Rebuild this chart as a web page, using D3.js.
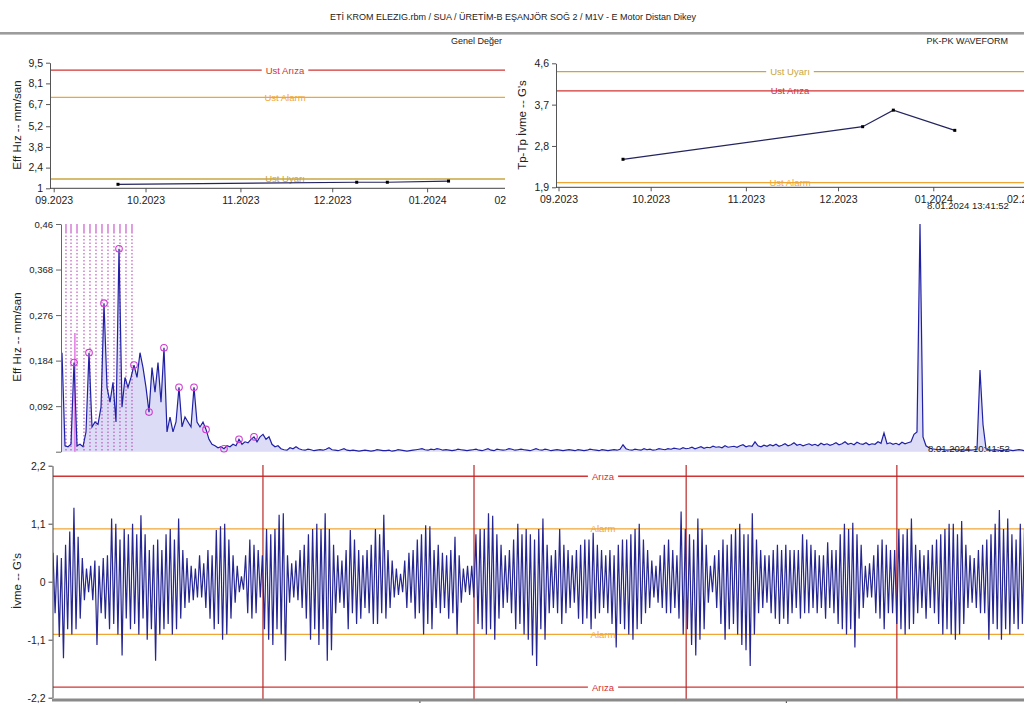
<!DOCTYPE html>
<html><head><meta charset="utf-8">
<script src="https://cdn.jsdelivr.net/npm/d3@7"></script>
<style>
body{margin:0;background:#fff;overflow:hidden}
svg text{font-family:"Liberation Sans",Arial,sans-serif;fill:#222}
</style>
</head><body>
<svg id="c" width="1024" height="703"></svg>
<script>
// ---------------- DATA ----------------
const titleText = "ETİ KROM ELEZIG.rbm / SUA / ÜRETİM-B EŞANJÖR SOĞ 2 / M1V - E Motor Distan Dikey";
const leftPanelTitle = "Genel Değer";
const rightPanelTitle = "PK-PK WAVEFORM";
const trendTimestamp = "8.01.2024 13:41:52";
const spectrumTimestamp = "8.01.2024 10:41:52";

const monthTickDates = ["2023-09-01","2023-10-01","2023-11-01","2023-12-01","2024-01-01","2024-02-01"];
const monthTickLabels = ["09.2023","10.2023","11.2023","12.2023","01.2024","02.2024"];

const trendDates = ["2023-09-22","2023-12-09","2023-12-19","2024-01-08"];
const velocityTrend = [1.27, 1.41, 1.41, 1.49];
const pkpkTrend = [2.51, 3.22, 3.58, 3.14];

const velTicks = [1, 2.4, 3.8, 5.2, 6.7, 8.1, 9.5];
const velTickLabels = ["1","2,4","3,8","5,2","6,7","8,1","9,5"];
const velLimitNames = ["Ust Arıza","Ust Alarm","Ust Uyarı"];
const velLimitValues = [9.0, 7.15, 1.63];

const pkTicks = [1.9, 2.8, 3.7, 4.6];
const pkTickLabels = ["1,9","2,8","3,7","4,6"];
const pkLimitNames = ["Ust Uyarı","Ust Arıza","Ust Alarm"];
const pkLimitValues = [4.42, 4.0, 2.0];

// spectrum (uniform bins)
const specTicks = [0, 0.092, 0.184, 0.276, 0.368, 0.46];
const specTickLabels = ["","0,092","0,184","0,276","0,368","0,46"];
const spectrumAmp = [
0.2,0.012,0.01,0.015,0.18,0.012,0.015,0.01,0.04,0.2,
0.05,0.06,0.055,0.09,0.3,0.13,0.1,0.14,0.06,0.41,
0.09,0.15,0.13,0.15,0.175,0.15,0.2,0.17,0.13,0.08,
0.17,0.12,0.18,0.1,0.21,0.04,0.07,0.04,0.06,0.13,
0.05,0.07,0.06,0.05,0.13,0.06,0.05,0.06,0.045,0.025,
0.015,0.012,0.008,0.01,0.006,0.012,0.01,0.015,0.012,0.025,
0.015,0.02,0.018,0.025,0.03,0.02,0.03,0.035,0.025,0.03,
0.015,0.01,0.012,0.006,0.004,0.003,0.008,0.006,
0.01,0.006,0.004,0.003,0.005,0.004,0.002,0.003,0.004,0.003,
0.005,0.008,0.004,0.003,0.002,0.004,0.006,0.003,0.002,0.003,
0.002,0.001,0.002,0.003,0.002,0.001,0.002,0.004,0.003,0.002,
0.002,0.003,0.001,0.002,0.004,0.003,0.002,0.001,0.002,0.003,
0.004,0.005,0.006,0.004,0.003,0.005,0.004,0.006,0.005,0.003,
0.004,0.003,0.002,0.003,0.005,0.004,0.003,0.002,0.003,0.004,
0.005,0.003,0.002,0.004,0.006,0.003,0.002,0.005,0.004,0.003,
0.004,0.006,0.005,0.003,0.004,0.005,0.004,0.003,0.002,0.004,
0.006,0.004,0.003,0.005,0.004,0.002,0.003,0.004,0.003,0.002,
0.003,0.004,0.003,0.002,0.004,0.003,0.002,0.003,0.005,0.004,
0.003,0.002,0.004,0.003,0.002,0.003,0.004,0.003,0.005,0.014,
0.006,0.004,0.003,0.005,0.004,0.003,0.006,0.004,0.005,0.003,
0.004,0.006,0.005,0.004,0.006,0.005,0.007,0.006,0.005,0.008,
0.006,0.007,0.009,0.006,0.008,0.01,0.007,0.009,0.008,0.011,
0.009,0.01,0.008,0.012,0.009,0.01,0.011,0.009,0.012,0.014,
0.01,0.012,0.011,0.02,0.012,0.01,0.013,0.011,0.014,0.012,
0.015,0.011,0.013,0.016,0.012,0.014,0.018,0.013,0.015,0.012,
0.014,0.016,0.013,0.015,0.012,0.017,0.014,0.016,0.013,0.015,
0.018,0.014,0.016,0.02,0.015,0.017,0.014,0.019,0.016,0.015,
0.018,0.014,0.016,0.015,0.02,0.017,0.038,0.016,0.018,0.015,
0.017,0.014,0.019,0.016,0.018,0.02,0.035,0.04,0.46,0.03,
0.012,0.008,0.006,0.005,0.004,0.005,0.004,0.003,0.004,0.005,
0.004,0.003,0.004,0.003,0.004,0.003,0.004,0.005,0.165,0.055,
0.006,0.004,0.003,0.004,0.003,0.002,0.003,0.004,0.003,0.002,
0.003,0.004,0.003,0.002
];
const markerBins = [4,9,14,19,24,29,34,39,44,48,54,59,64];
const sidebandBins = [1.33,3.0,5.0,7.33,9.33,11.33,13.33,15.33,17.33,19.33,21.33,23.33];
const cursorBin = 4.3;
const cursorValue = 0.24;

// waveform (ms step)
const waveStepMs = 0.5714;
const waveTicks = [-2.2, -1.1, 0, 1.1, 2.2];
const waveTickLabels = ["-2,2","-1,1","0","1,1","2,2"];
const waveTimeTicks = [100, 200];
const revolutionMarksMs = [57.3, 114.9, 172.8, 230.3];
const waveLimitNames = ["Arıza","Alarm","Alarm","Arıza"];
const waveLimitValues = [2.0, 1.0, -1.0, -2.0];
const waveform = [
0.55,-0.6,0.5,-1.05,0.45,-1.45,0.7,-0.9,0.95,-1.0,1.4,-0.9,0.85,-0.7,
0.45,-0.35,0.25,-0.2,0.3,-0.35,0.4,-1.2,0.3,-0.6,0.45,-0.7,0.5,-0.9,
1.2,-0.8,1.1,-1.0,0.8,-1.4,1.0,-0.7,0.9,-0.9,1.1,-0.8,0.9,-1.0,
1.26,-0.7,0.9,-1.1,0.6,-0.9,0.7,-1.5,0.8,-1.0,0.6,-0.9,0.9,-0.8,
1.0,-1.0,0.8,-0.9,1.2,-0.7,0.6,-0.5,0.45,-0.4,0.3,-0.35,0.25,-0.3,
0.5,-0.3,0.35,-0.5,0.6,-0.7,0.5,-0.9,0.98,-0.8,1.05,-1.1,1.1,-1.0,
0.8,-0.7,0.5,-0.4,0.3,-0.2,0.1,-0.15,0.5,-0.6,0.8,-0.7,0.7,-0.6,
0.6,-0.3,0.5,-0.9,1.0,-1.1,0.9,-1.2,1.0,-0.9,1.27,-1.0,1.3,-1.5,
0.5,-0.4,0.35,-0.3,0.4,-0.35,0.6,-0.5,0.7,-0.7,0.9,-1.1,1.0,-0.9,
1.1,-1.2,1.0,-0.9,1.3,-1.5,1.0,-1.3,0.7,-0.6,0.5,-0.4,0.4,-0.5,
0.6,-0.9,0.98,-0.6,0.8,-0.8,0.6,-0.7,0.5,-0.5,0.6,-0.6,0.7,-0.8,
1.0,-0.8,0.9,-0.6,1.27,-0.7,0.6,-0.5,0.4,-0.3,0.25,-0.25,0.15,-0.2,
0.4,-0.5,0.55,-0.4,0.6,-0.7,0.8,-0.6,0.9,-1.0,1.07,-0.8,1.05,-0.9,
0.6,-0.5,0.7,-0.6,0.55,-0.5,0.5,-0.7,0.6,-0.6,0.85,-1.0,0.5,-0.4,
0.25,-0.2,0.3,-0.25,0.3,-0.3,0.9,-0.8,1.0,-0.9,1.0,-1.0,1.3,-0.9,
1.25,-1.1,0.9,-0.7,0.7,-0.5,0.5,-0.4,0.6,-0.6,0.8,-0.9,1.1,-0.8,
0.9,-1.0,1.0,-1.1,0.9,-1.4,0.8,-1.6,1.0,-0.9,1.2,-1.1,0.7,-0.6,
0.5,-0.5,0.6,-0.6,1.0,-0.8,0.7,-0.6,0.6,-0.5,0.5,-0.4,0.6,-0.7,
0.7,-0.8,0.8,-0.7,0.8,-0.9,0.93,-0.7,0.7,-0.6,0.6,-0.5,0.5,-0.6,
0.6,-0.8,0.5,-1.25,0.7,-0.8,0.8,-0.9,0.8,-1.0,0.9,-1.1,1.0,-0.9,
1.1,-0.8,0.8,-0.6,0.6,-0.5,0.4,-0.3,0.3,-0.4,0.5,-0.5,0.7,-0.6,
0.8,-0.6,0.6,-0.5,0.5,-0.7,1.33,-1.0,1.0,-0.9,0.9,-1.2,0.8,-1.4,
1.2,-1.1,1.0,-0.9,0.7,-0.4,0.3,-0.2,0.5,-0.5,0.6,-0.8,0.8,-1.1,
0.7,-0.9,0.9,-0.8,1.0,-1.0,1.1,-1.2,0.9,-1.3,0.9,-1.6,1.3,-1.0,
0.8,-0.6,0.6,-0.5,0.5,-0.4,0.5,-0.6,0.6,-0.7,0.7,-0.8,0.6,-0.7,
0.7,-0.8,0.6,-0.6,0.6,-0.5,0.6,-0.7,0.9,-0.6,0.8,-0.6,0.7,-0.5,
0.6,-0.6,0.5,-0.5,0.5,-0.7,0.75,-0.5,0.6,-0.6,0.6,-0.8,0.9,-0.9,
1.1,-1.0,1.0,-0.9,1.12,-1.25,0.9,-0.7,0.7,-0.5,0.3,-0.3,0.35,-0.3,
0.5,-0.6,0.7,-0.7,0.8,-0.9,0.7,-0.6,0.6,-0.6,0.6,-0.8,1.0,-0.9,
0.9,-1.0,1.0,-0.9,1.2,-0.8,0.7,-0.6,0.6,-0.5,0.5,-0.7,0.6,-0.5,
0.7,-0.6,0.8,-0.8,0.9,-1.0,1.0,-0.9,1.1,-1.0,1.1,-1.1,0.9,-1.0,
1.15,-0.8,0.7,-0.5,0.5,-0.4,0.45,-0.5,0.6,-0.6,0.7,-0.6,0.8,-1.1,
0.9,-0.8,1.1,-0.9,1.36,-1.1,1.0,-0.9,1.2,-1.0,0.9,-0.8,0.8,-0.9,
1.1,-0.8,1.0
];

// ---------------- DRAW ----------------
const RED = "#d03434", ORANGE = "#f0a634", GOLD = "#c9a640";
const limitColor = n => n.indexOf("Arıza") >= 0 ? RED : (n.indexOf("Alarm") >= 0 ? ORANGE : GOLD);
const svg = d3.select("#c");
const defs = svg.append("defs");
function clip(id, x, y, w, h) {
  defs.append("clipPath").attr("id", id).append("rect").attr("x", x).attr("y", y).attr("width", w).attr("height", h);
  return "url(#" + id + ")";
}
const parse = d3.timeParse("%Y-%m-%d");

svg.append("text").attr("x", 513).attr("y", 19.5).attr("text-anchor", "middle").attr("font-size", 9).text(titleText);
svg.append("rect").attr("x", 0).attr("y", 32).attr("width", 1024).attr("height", 2.6).attr("fill", "#9c9c9c");
svg.append("text").attr("x", 502).attr("y", 44).attr("text-anchor", "end").attr("font-size", 9).text(leftPanelTitle);
svg.append("text").attr("x", 1008).attr("y", 44).attr("text-anchor", "end").attr("font-size", 9).text(rightPanelTitle);

function styleAxis(g, c) {
  g.selectAll("line").attr("stroke", c || "#333");
  g.selectAll("path").attr("stroke", c || "#333");
  g.selectAll("text").attr("fill", "#222").attr("font-family", "Liberation Sans, Arial, sans-serif");
}

function trendPanel(o) {
  const g = svg.append("g");
  const x = d3.scaleTime().domain([parse(monthTickDates[0]), parse(monthTickDates[5])]).range(o.xr);
  const y = d3.scaleLinear().domain(o.yd).range(o.yr);
  const cp = clip(o.id, 0, 40, o.right + 1, 180);
  const inner = g.append("g").attr("clip-path", cp);
  o.limNames.forEach((n, i) => {
    const yy = y(o.limVals[i]);
    inner.append("line").attr("x1", o.ax).attr("x2", o.right).attr("y1", yy).attr("y2", yy)
      .attr("stroke", limitColor(n)).attr("stroke-width", 1.3);
    const t = inner.append("text").attr("x", o.labX).attr("y", yy + 3.5).attr("text-anchor", "middle")
      .attr("font-size", 9.5).style("fill", limitColor(n)).text(n);
    const w = t.node().getComputedTextLength();
    inner.insert("rect", "text").attr("x", o.labX - w / 2 - 4).attr("y", yy - 2).attr("width", w + 8).attr("height", 4).attr("fill", "#fff");
  });
  const ya = g.append("g").attr("transform", `translate(${o.ax},0)`)
    .call(d3.axisLeft(y).tickValues(o.yt).tickFormat((d, i) => o.ytl[i]).tickSize(4).tickSizeOuter(0));
  ya.selectAll("text").attr("font-size", 10.5);
  styleAxis(ya, "#555");
  const xa = inner.append("g").attr("transform", `translate(0,${o.yr[0]})`)
    .call(d3.axisBottom(x).tickValues(monthTickDates.map(parse)).tickFormat((d, i) => monthTickLabels[i]).tickSize(4).tickSizeOuter(0));
  xa.select(".domain").remove();
  xa.selectAll("text").attr("font-size", 10.5).attr("dy", "0.85em");
  xa.selectAll(".tick").filter((d, i) => i === monthTickDates.length - 1).select("text").attr("dx", o.lastDx);
  styleAxis(xa, "#555");
  g.append("line").attr("x1", o.ax).attr("x2", o.right).attr("y1", o.yr[0]).attr("y2", o.yr[0]).attr("stroke", "#444");
  const pts = trendDates.map((d, i) => [x(parse(d)), y(o.vals[i])]);
  inner.append("path").attr("d", d3.line()(pts)).attr("fill", "none").attr("stroke", "#24245e").attr("stroke-width", 1.2);
  inner.selectAll(".dot" + o.id).data(pts).enter().append("rect")
    .attr("x", p => p[0] - 1.5).attr("y", p => p[1] - 1.5).attr("width", 3).attr("height", 3).attr("fill", "#000");
  svg.append("text").attr("transform", `translate(${o.labAxX},${o.labAxY}) rotate(-90)`).attr("text-anchor", "middle")
    .attr("font-size", 11.5).text(o.ylabel);
}

trendPanel({id: "tl", xr: [53.7, 522], yd: [1, 9.5], yr: [188.3, 62.7], ax: 50, right: 505,
  yt: velTicks, ytl: velTickLabels, limNames: velLimitNames, limVals: velLimitValues, labX: 285,
  vals: velocityTrend, ylabel: "Eff Hız -- mm/san", labAxX: 21, labAxY: 125, lastDx: -9});
trendPanel({id: "tr", xr: [558.5, 1028.5], yd: [1.9, 4.6], yr: [187.3, 63.3], ax: 556, right: 1024,
  yt: pkTicks, ytl: pkTickLabels, limNames: pkLimitNames, limVals: pkLimitValues, labX: 790,
  vals: pkpkTrend, ylabel: "Tp-Tp İvme -- G's", labAxX: 526, labAxY: 125, lastDx: -3});

svg.append("text").attr("x", 927).attr("y", 209).attr("font-size", 9.5).text(trendTimestamp);

// ---------- spectrum panel ----------
(function () {
  const x = d3.scaleLinear().domain([0, spectrumAmp.length - 1]).range([62, 62 + 3 * (spectrumAmp.length - 1)]);
  const y = d3.scaleLinear().domain([0, 0.46]).range([451.7, 224]);
  const g = svg.append("g");
  const inner = g.append("g").attr("clip-path", clip("sp", 61, 220, 964, 233));
  const area = d3.area().x((d, i) => x(i)).y0(y(0)).y1(d => y(d));
  inner.append("path").attr("d", area(spectrumAmp)).attr("fill", "#8a8ae0").attr("opacity", 0.3);
  sidebandBins.forEach(b => {
    inner.append("line").attr("x1", x(b)).attr("x2", x(b)).attr("y1", 224).attr("y2", 232).attr("stroke", "#c23cc2").attr("stroke-width", 1);
    inner.append("line").attr("x1", x(b)).attr("x2", x(b)).attr("y1", 232).attr("y2", 452).attr("stroke", "#b23cb2")
      .attr("stroke-width", 1).attr("stroke-dasharray", "1.5,2");
  });
  inner.append("line").attr("x1", x(cursorBin)).attr("x2", x(cursorBin)).attr("y1", y(cursorValue)).attr("y2", y(0))
    .attr("stroke", "#e070e0").attr("stroke-width", 1.4);
  const line = d3.line().x((d, i) => x(i)).y(d => y(d));
  inner.append("path").attr("d", line(spectrumAmp)).attr("fill", "none").attr("stroke", "#2020a6").attr("stroke-width", 1.2);
  inner.selectAll(".mk").data(markerBins).enter().append("circle")
    .attr("cx", b => x(b)).attr("cy", b => y(spectrumAmp[b])).attr("r", 3.3)
    .attr("fill", "none").attr("stroke", "#d03cd0").attr("stroke-width", 1.1);
  const ya = g.append("g").attr("transform", "translate(61,0)")
    .call(d3.axisLeft(y).tickValues(specTicks).tickFormat((d, i) => specTickLabels[i]).tickSize(5).tickSizeOuter(0));
  ya.selectAll("text").attr("font-size", 9.5);
  styleAxis(ya, "#666");
  svg.append("text").attr("transform", "translate(21,337) rotate(-90)").attr("text-anchor", "middle")
    .attr("font-size", 11.5).text("Eff Hız -- mm/san");
  svg.append("text").attr("x", 928).attr("y", 452).attr("font-size", 9.5).text(spectrumTimestamp);
})();

// ---------- waveform panel ----------
(function () {
  const x = d3.scaleLinear().domain([0, 265]).range([53, 1024]);
  const y = d3.scaleLinear().domain([-2.2, 2.2]).range([697.7, 465.7]);
  const g = svg.append("g");
  const inner = g.append("g").attr("clip-path", clip("wf", 53, 462, 972, 238));
  waveLimitNames.forEach((n, i) => {
    const yy = y(waveLimitValues[i]);
    inner.append("line").attr("x1", 53).attr("x2", 1024).attr("y1", yy).attr("y2", yy)
      .attr("stroke", limitColor(n)).attr("stroke-width", 1.3);
  });
  revolutionMarksMs.forEach(t => {
    inner.append("line").attr("x1", x(t)).attr("x2", x(t)).attr("y1", 465).attr("y2", 699)
      .attr("stroke", "#b82828").attr("stroke-width", 1.2);
  });
  const line = d3.line().x((d, i) => x(i * waveStepMs)).y(d => y(d));
  inner.append("path").attr("d", line(waveform)).attr("fill", "none").attr("stroke", "#262692").attr("stroke-width", 1.2);
  waveLimitNames.forEach((n, i) => {
    const yy = y(waveLimitValues[i]);
    const t = g.append("text").attr("x", 603).attr("y", yy + 3.5).attr("text-anchor", "middle")
      .attr("font-size", 9.5).style("fill", limitColor(n)).text(n);
    if (n === "Arıza") {
      const w = t.node().getComputedTextLength();
      g.insert("rect", "text").attr("x", 603 - w / 2 - 4).attr("y", yy - 2).attr("width", w + 8).attr("height", 4).attr("fill", "#fff");
    }
  });
  const ya = g.append("g").attr("transform", "translate(52.5,0)")
    .call(d3.axisLeft(y).tickValues(waveTicks).tickFormat((d, i) => waveTickLabels[i]).tickSize(4).tickSizeOuter(0));
  ya.selectAll("text").attr("font-size", 10.5);
  styleAxis(ya, "#444");
  const xa = g.append("g").attr("transform", "translate(0,700)")
    .call(d3.axisBottom(x).tickValues(waveTimeTicks).tickFormat("").tickSize(4).tickSizeOuter(0));
  xa.select(".domain").remove();
  styleAxis(xa, "#333");
  g.append("rect").attr("x", 52).attr("y", 698.5).attr("width", 972).attr("height", 3).attr("fill", "#8a8a8a");
  svg.append("text").attr("transform", "translate(21,581) rotate(-90)").attr("text-anchor", "middle")
    .attr("font-size", 11.5).text("İvme -- G's");
})();
</script>
</body></html>
